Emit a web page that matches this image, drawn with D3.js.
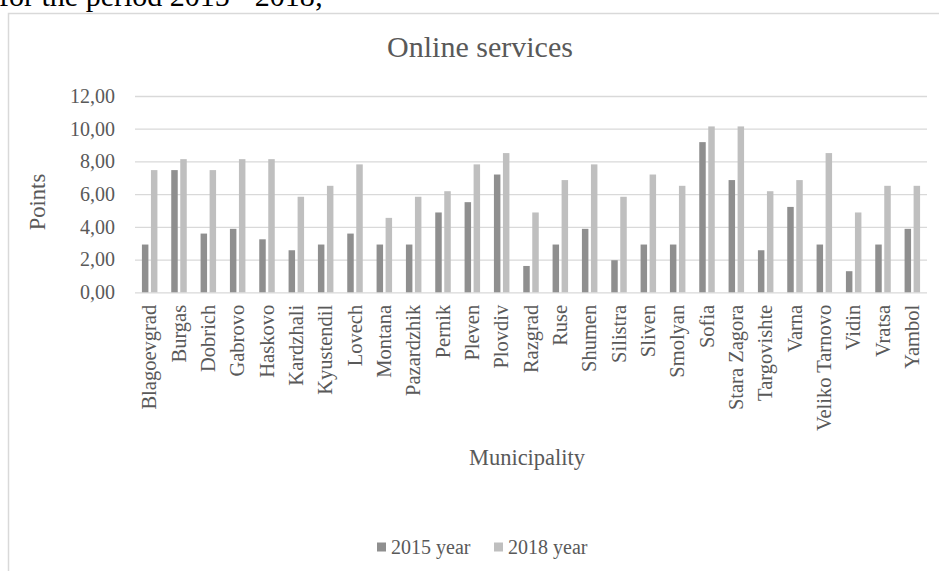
<!DOCTYPE html>
<html>
<head>
<meta charset="utf-8">
<script src="https://cdn.jsdelivr.net/npm/d3@7"></script>
<style>
  html, body { margin: 0; padding: 0; background: #fff; }
  svg { display: block; }
  text { font-family: "Liberation Serif", "Times New Roman", serif; }
</style>
</head>
<body>
<svg id="chart" width="939" height="571"></svg>
<script>
const categories = ["Blagoevgrad","Burgas","Dobrich","Gabrovo","Haskovo","Kardzhali","Kyustendil","Lovech","Montana","Pazardzhik","Pernik","Pleven","Plovdiv","Razgrad","Ruse","Shumen","Silistra","Sliven","Smolyan","Sofia","Stara Zagora","Targovishte","Varna","Veliko Tarnovo","Vidin","Vratsa","Yambol"];
const seriesNames = ["2015 year", "2018 year"];
const values2015 = [2.92, 7.47, 3.59, 3.88, 3.24, 2.57, 2.92, 3.59, 2.92, 2.92, 4.88, 5.51, 7.20, 1.61, 2.92, 3.88, 1.96, 2.92, 2.92, 9.18, 6.86, 2.57, 5.22, 2.92, 1.29, 2.92, 3.88];
const values2018 = [7.47, 8.14, 7.47, 8.14, 8.14, 5.84, 6.51, 7.82, 4.55, 5.84, 6.18, 7.82, 8.51, 4.88, 6.86, 7.82, 5.84, 7.20, 6.51, 10.14, 10.14, 6.18, 6.86, 8.51, 4.88, 6.51, 6.51];
const yTicks = [0, 2, 4, 6, 8, 10, 12];
const colors = ["#8f8f8f", "#bfbfbf"];

const svg = d3.select("#chart");
const W = 939, H = 571;
const plot = { left: 135, right: 927, top: 96, bottom: 292.3 };

// page text above the chart (cut off at the top edge, as in the reference)
svg.append("text")
  .attr("x", -1).attr("y", 5.5)
  .attr("font-size", 30).attr("fill", "#000")
  .text("for the period 2015 - 2018;");

// chart border
svg.append("path")
  .attr("d", `M8.5,${H} L8.5,13.5 L${W},13.5`)
  .attr("fill", "none").attr("stroke", "#d9d9d9").attr("stroke-width", 1.5);

const x = d3.scaleBand().domain(categories).range([plot.left, plot.right]);
const x1 = d3.scaleBand().domain(seriesNames).range([-7.75, 7.75]).paddingInner(0.28);
const y = d3.scaleLinear().domain([0, 12]).range([plot.bottom, plot.top]);

const locale = d3.formatLocale({ decimal: ",", thousands: " ", grouping: [3], currency: ["", ""] });
const fmt = locale.format(".2f");

// y axis with gridlines
const yAxis = svg.append("g")
  .attr("transform", `translate(${plot.left},0)`)
  .call(d3.axisLeft(y).tickValues(yTicks).tickFormat(fmt)
    .tickSize(-(plot.right - plot.left)).tickPadding(20));
yAxis.select(".domain").remove();
yAxis.selectAll(".tick line").attr("stroke", "#d9d9d9").attr("stroke-width", 1.3);
yAxis.selectAll(".tick text").attr("fill", "#595959").attr("font-size", 20)
  .attr("font-family", "Liberation Serif");

// bars
const data = categories.map((c, i) => ({ cat: c, vals: [values2015[i], values2018[i]] }));
const groups = svg.append("g").selectAll("g").data(data).join("g")
  .attr("transform", d => `translate(${x(d.cat) + x.bandwidth() / 2},0)`);
groups.selectAll("rect").data(d => d.vals.map((v, j) => ({ v, s: seriesNames[j], j })))
  .join("rect")
  .attr("x", d => x1(d.s))
  .attr("width", x1.bandwidth())
  .attr("y", d => y(d.v))
  .attr("height", d => y(0) - y(d.v))
  .attr("fill", d => colors[d.j]);

// x axis labels
const xAxis = svg.append("g")
  .attr("transform", `translate(0,${plot.bottom})`)
  .call(d3.axisBottom(x).tickSize(0).tickPadding(0));
xAxis.select(".domain").remove();
xAxis.selectAll(".tick text")
  .attr("fill", "#595959").attr("font-size", 20.5).attr("font-family", "Liberation Serif")
  .attr("transform", "rotate(-90)")
  .attr("text-anchor", "end")
  .attr("x", -12.5).attr("y", 0).attr("dy", "0.32em");

// title
svg.append("text")
  .attr("x", 480).attr("y", 57)
  .attr("text-anchor", "middle").attr("font-size", 30).attr("fill", "#595959")
  .text("Online services");

// axis titles
svg.append("text")
  .attr("transform", "translate(45,202) rotate(-90)")
  .attr("text-anchor", "middle").attr("font-size", 22.5).attr("fill", "#595959")
  .text("Points");

svg.append("text")
  .attr("x", 527).attr("y", 465)
  .attr("text-anchor", "middle").attr("font-size", 22.5).attr("fill", "#595959")
  .text("Municipality");

// legend
const legendX = [377, 494];
const leg = svg.append("g").selectAll("g").data(seriesNames).join("g")
  .attr("transform", (d, i) => `translate(${legendX[i]},547)`);
leg.append("rect").attr("x", 0).attr("y", -4.5).attr("width", 9).attr("height", 9)
  .attr("fill", (d, i) => colors[i]);
leg.append("text").attr("x", 14).attr("y", 0).attr("dy", "0.35em")
  .attr("font-size", 20).attr("fill", "#595959").text(d => d);
</script>
</body>
</html>
